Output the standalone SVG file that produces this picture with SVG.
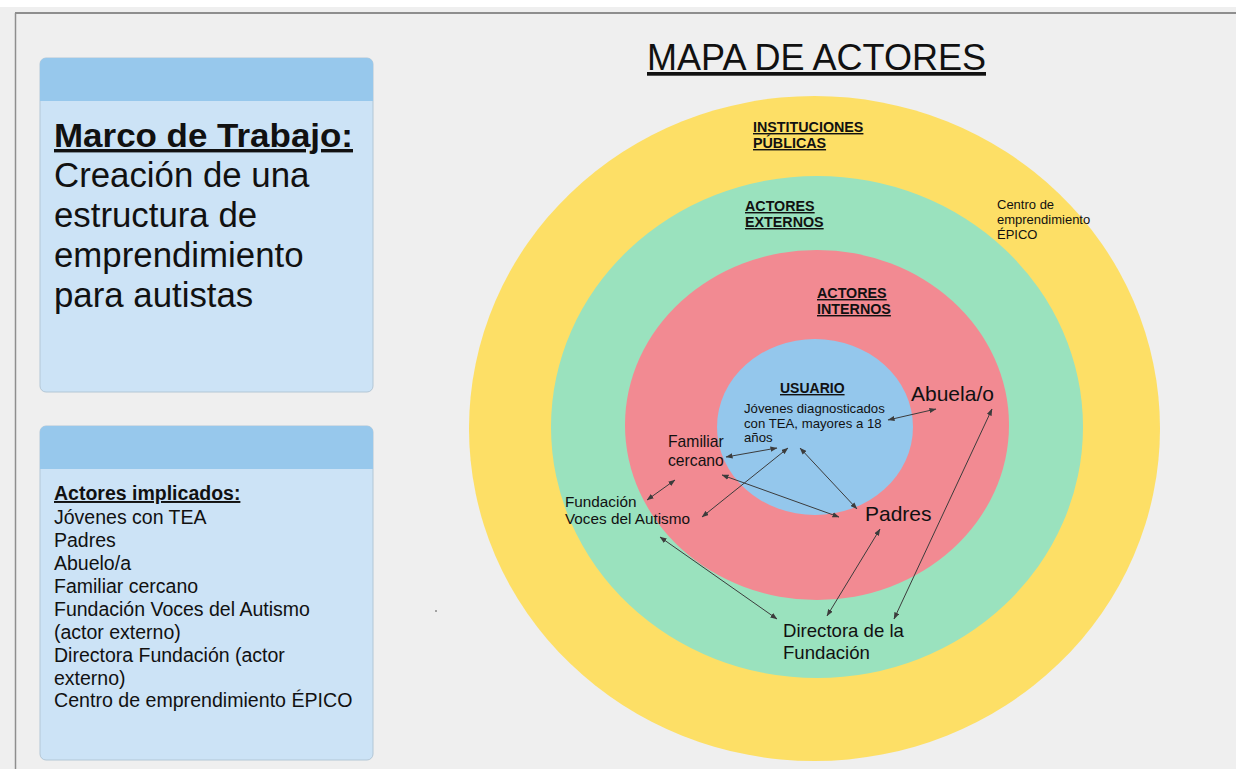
<svg xmlns="http://www.w3.org/2000/svg" width="1236" height="769" viewBox="0 0 1236 769">
<defs>
<style>
text{font-family:"Liberation Sans",Arial,Helvetica,sans-serif;fill:#111}
.u{text-decoration:underline}
.b{font-weight:bold}
.conn line{stroke:#3c3c3c;stroke-width:1;marker-start:url(#ah);marker-end:url(#ah)}
.hdr{fill:#97c8ec}
.body{fill:#cce3f6;stroke:#b3c7d6;stroke-width:1}
</style>
<marker id="ah" viewBox="0 0 8 6" refX="7.5" refY="3" markerWidth="7" markerHeight="5.5" markerUnits="userSpaceOnUse" orient="auto-start-reverse">
<path d="M0,0 L8,3 L0,6 z" fill="#3c3c3c"/>
</marker>
</defs>
<rect x="0" y="0" width="1236" height="769" fill="#ffffff"/>
<rect x="0" y="7" width="1236" height="762" fill="#efefef"/>
<line x1="15" y1="13" x2="1236" y2="13" stroke="#8e8e8e" stroke-width="2"/>
<line x1="15.5" y1="13" x2="15.5" y2="769" stroke="#8e8e8e" stroke-width="1.5"/>

<g id="box-marco">
<rect class="body" x="40" y="58" width="333" height="334" rx="6"/>
<path class="hdr" d="M46,58 H367 a6,6 0 0 1 6,6 V101 H40 V64 a6,6 0 0 1 6,-6 z"/>
<text x="54" y="147" font-size="34" class="b u" textLength="299" lengthAdjust="spacingAndGlyphs">Marco de Trabajo:</text>
<text x="54" y="187" font-size="34.8">Creación de una</text>
<text x="54" y="227" font-size="34.8">estructura de</text>
<text x="54" y="267" font-size="34.8">emprendimiento</text>
<text x="54" y="307" font-size="34.8">para autistas</text>
</g>

<g id="box-actores">
<rect class="body" x="40" y="426" width="333" height="334" rx="6"/>
<path class="hdr" d="M46,426 H367 a6,6 0 0 1 6,6 V469 H40 V432 a6,6 0 0 1 6,-6 z"/>
<text x="54" y="500" font-size="19.5" class="b u">Actores implicados:</text>
<text x="54" y="524" font-size="19.5">Jóvenes con TEA</text>
<text x="54" y="547" font-size="19.5">Padres</text>
<text x="54" y="570" font-size="19.5">Abuelo/a</text>
<text x="54" y="593" font-size="19.5">Familiar cercano</text>
<text x="54" y="616" font-size="19.5">Fundación Voces del Autismo</text>
<text x="54" y="639" font-size="19.5">(actor externo)</text>
<text x="54" y="662" font-size="19.5">Directora Fundación (actor</text>
<text x="54" y="685" font-size="19.5">externo)</text>
<text x="54" y="707" font-size="19.6">Centro de emprendimiento ÉPICO</text>
</g>

<g id="title">
<text x="647" y="70" font-size="37" class="u" textLength="339" lengthAdjust="spacingAndGlyphs">MAPA DE ACTORES</text>
</g>

<g id="ring-instituciones">
<ellipse cx="814.5" cy="428.5" rx="345.5" ry="332.5" fill="#fddf66"/>
<text x="753" y="132" font-size="14.3" class="b u">INSTITUCIONES </text>
<text x="753" y="148" font-size="14.3" class="b u">PÚBLICAS</text>
</g>

<g id="ring-externos">
<ellipse cx="817" cy="427" rx="266" ry="251" fill="#9ae2be"/>
<text x="745" y="211" font-size="14.3" class="b u">ACTORES </text>
<text x="745" y="227" font-size="14.3" class="b u">EXTERNOS</text>
</g>

<g id="ring-internos">
<ellipse cx="817" cy="425" rx="192" ry="175" fill="#f28a92"/>
<text x="817" y="298" font-size="14.3" class="b u">ACTORES</text>
<text x="817" y="314" font-size="14.3" class="b u">INTERNOS</text>
</g>

<g id="usuario">
<ellipse cx="815" cy="427" rx="98" ry="88" fill="#94c7ec"/>
<text x="780" y="393" font-size="14" class="b u">USUARIO</text>
<text x="744" y="413" font-size="13.2">Jóvenes diagnosticados</text>
<text x="744" y="427.5" font-size="13.2">con TEA, mayores a 18</text>
<text x="744" y="442" font-size="13.2">años</text>
</g>

<g id="centro-epico">
<text x="997" y="209" font-size="13">Centro de</text>
<text x="997" y="224" font-size="13">emprendimiento</text>
<text x="997" y="239" font-size="13">ÉPICO</text>
</g>

<g id="abuela">
<text x="911" y="401" font-size="21">Abuela/o</text>
</g>

<g id="familiar">
<text x="668" y="447" font-size="15.7">Familiar</text>
<text x="668" y="466" font-size="15.7">cercano</text>
</g>

<g id="padres">
<text x="865" y="521" font-size="21">Padres</text>
</g>

<g id="fundacion">
<text x="565" y="507" font-size="15.3">Fundación</text>
<text x="565" y="524" font-size="15.3">Voces del Autismo</text>
</g>

<g id="directora">
<text x="783" y="637" font-size="18.6">Directora de la</text>
<text x="783" y="659" font-size="18.6">Fundación</text>
</g>

<g id="connectors" class="conn">
<line x1="888" y1="420" x2="936" y2="409"/>
<line x1="726" y1="457" x2="777" y2="448"/>
<line x1="702" y1="517" x2="788" y2="448"/>
<line x1="800" y1="448" x2="857" y2="509"/>
<line x1="722" y1="475" x2="839" y2="517"/>
<line x1="675" y1="480" x2="647" y2="500"/>
<line x1="660" y1="537" x2="777" y2="619"/>
<line x1="880" y1="529" x2="827" y2="616"/>
<line x1="992" y1="409" x2="894" y2="619"/>
</g>

<circle cx="436" cy="611" r="1" fill="#8a8a8a"/>
</svg>
